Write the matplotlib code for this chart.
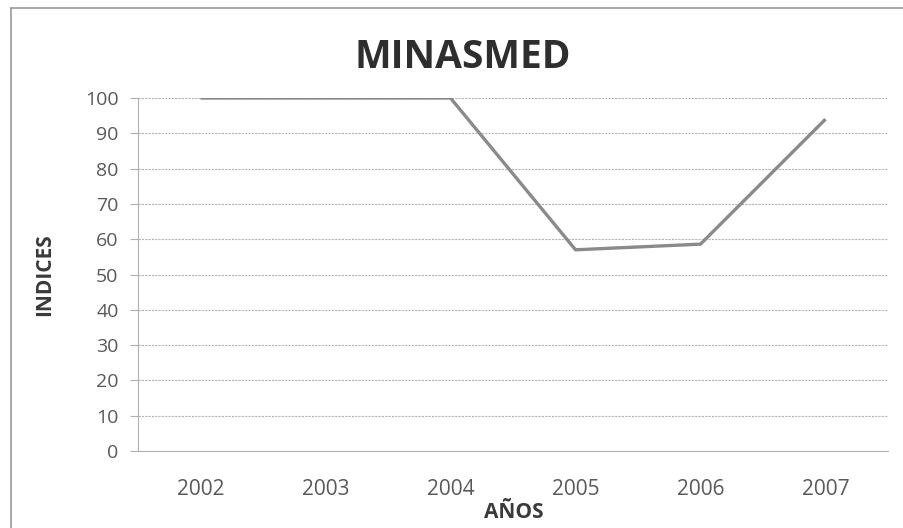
import matplotlib
matplotlib.use("Agg")
import matplotlib.pyplot as plt
from matplotlib.lines import Line2D

# Data
years = ["2002", "2003", "2004", "2005", "2006", "2007"]
indices = [100, 100, 100, 57, 58.6, 94]
y_ticks = [0, 10, 20, 30, 40, 50, 60, 70, 80, 90, 100]

W, H = 904, 528
FONT = ["Open Sans", "DejaVu Sans"]
fig = plt.figure(figsize=(W / 100, H / 100), dpi=100)
fig.patch.set_facecolor("white")

ax = fig.add_axes([138 / W, 1 - 451 / H, (888 - 138) / W, (451 - 98) / H])

x = list(range(len(years)))
ax.plot(x, indices, color="#8a8a8a", linewidth=2.4, solid_joinstyle="miter",
        solid_capstyle="butt", zorder=3)

ax.set_xlim(-0.5, len(years) - 0.5)
ax.set_ylim(0, 100)
ax.set_yticks(y_ticks)
ax.set_xticks(x)
ax.set_xticklabels(years)

# Gridlines
for v in y_ticks[1:]:
    ax.axhline(v, color="#b5b5b5", linewidth=0.8, linestyle=(0, (2, 1)), zorder=1)

for side in ["top", "right"]:
    ax.spines[side].set_visible(False)
ax.spines["left"].set_color("#b0b0b0")
ax.spines["left"].set_linewidth(0.8)
ax.spines["bottom"].set_color("#b0b0b0")
ax.spines["bottom"].set_linewidth(0.8)

ax.tick_params(axis="y", length=6, width=0.8, color="#b0b0b0", pad=8)
ax.tick_params(axis="x", length=0, pad=20)
for lbl in ax.get_yticklabels():
    lbl.set_fontfamily(FONT)
    lbl.set_fontsize(14)
    lbl.set_color("#595959")
for lbl in ax.get_xticklabels():
    lbl.set_fontfamily(FONT)
    lbl.set_fontsize(15)
    lbl.set_color("#595959")

# Axis titles
fig.text(45 / W, 1 - 275 / H, "INDICES", ha="center", va="center", rotation=90,
         family=FONT, fontsize=15, fontweight="bold", color="#3a3a3a")
fig.text(514 / W, 1 - 513 / H, "AÑOS", ha="center", va="center",
         family=FONT, fontsize=15, fontweight="bold", color="#3a3a3a")

fig.text(463 / W, 1 - 57 / H, "MINASMED", ha="center", va="center",
         family=FONT, fontsize=28, fontweight="bold", color="#2e2e2e")

# Chart area frame (left and top edges)
fig.add_artist(Line2D([11 / W, 11 / W], [0, 1 - 8 / H], transform=fig.transFigure,
                      color="#9a9a9a", linewidth=1.2))
fig.add_artist(Line2D([11 / W, 1], [1 - 8 / H, 1 - 8 / H], transform=fig.transFigure,
                      color="#9a9a9a", linewidth=1.2))

fig.savefig("out.png", dpi=100, facecolor="white")
